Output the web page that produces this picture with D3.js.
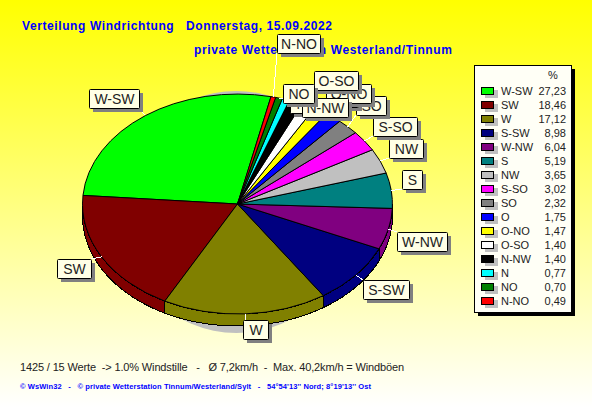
<!DOCTYPE html>
<html><head><meta charset="utf-8">
<script src="https://cdn.jsdelivr.net/npm/d3@7/dist/d3.min.js"></script>
<style>html,body{margin:0;padding:0;background:#fff}svg{display:block}text{font-family:"Liberation Sans",Arial,sans-serif;white-space:pre}</style>
</head><body><svg id="c" width="592" height="407"></svg>
<script>
const categories=["W-SW","SW","W","S-SW","W-NW","S","NW","S-SO","SO","O","O-NO","O-SO","N-NW","N","NO","N-NO"];
const values=[27.23,18.46,17.12,8.98,6.04,5.19,3.65,3.02,2.32,1.75,1.47,1.40,1.40,0.77,0.70,0.49];
const colors=["#00ff00","#800000","#808000","#000080","#800080","#008080","#c0c0c0","#ff00ff","#808080","#0000ff","#ffff00","#ffffff","#000000","#00ffff","#008000","#ff0000"];
const title1="Verteilung Windrichtung   Donnerstag, 15.09.2022";
const title2="private Wetterstation Westerland/Tinnum";
const foot1="1425 / 15 Werte  -> 1.0% Windstille   -   Ø 7,2km/h  -  Max. 40,2km/h = Windböen";
const foot2="© WsWin32   -   © private Wetterstation Tinnum/Westerland/Sylt   -   54°54'13'' Nord; 8°19'13'' Ost";

// layout
const cx=237.5,cy=204,rx=155,ry=110,depth=12;
const labelBoxes={ "W-SW":[89,89,50],"SW":[57,259,34],"W":[243,320,25],"S-SW":[363,280,46],"W-NW":[397,232,50],
 "S":[402,170,20],"NW":[389,139,34],"S-SO":[373,117,44],"SO":[356,96,30],"O":[338,88,20],"O-NO":[326,84,45],
 "O-SO":[314,71,44],"N":[290,94,22],"N-NW":[302,98,46],"NO":[283,84,31],"N-NO":[277,34,43]};
const labelOrder=["W-SW","SW","W","S-SW","W-NW","S","NW","S-SO","SO","O","O-NO","O-SO","N","N-NW","NO","N-NO"];

const svg=d3.select("#c");
const defs=svg.append("defs");
const g=defs.append("linearGradient").attr("id","bg").attr("x1",0).attr("y1",0).attr("x2",0).attr("y2",1);
g.append("stop").attr("offset",0).attr("stop-color","#ffff00");
g.append("stop").attr("offset",1).attr("stop-color","#ffffff");
svg.append("rect").attr("width",592).attr("height",407).attr("fill","url(#bg)");

// titles
svg.append("text").attr("x",22).attr("y",30).attr("fill","#0000ff").attr("font-weight","bold").attr("font-size",12).attr("textLength",310).attr("lengthAdjust","spacing").text(title1);
svg.append("text").attr("x",194).attr("y",54).attr("fill","#0000ff").attr("font-weight","bold").attr("font-size",12).attr("textLength",258).attr("lengthAdjust","spacing").text(title2);

const sx=d3.scaleLinear().domain([-1,1]).range([cx-rx,cx+rx]);
const sy=d3.scaleLinear().domain([-1,1]).range([cy-ry,cy+ry]);
const start=12.5*Math.PI/180;
const pie=d3.pie().value(d=>d).sort(null).startAngle(start).endAngle(start-2*Math.PI);
const arcs=pie(values);
const arcUnit=d3.arc().innerRadius(0).outerRadius(1);
const px=a=>sx(Math.sin(a)), py=a=>sy(-Math.cos(a));

// back shadow
svg.append("ellipse").attr("cx",cx-1).attr("cy",212).attr("rx",118).attr("ry",121).attr("fill","#c0c0c0");

// side walls (lower half of the ellipse only)
const wall=svg.append("g").attr("shape-rendering","crispEdges");
const norm=a=>{while(a<0)a+=2*Math.PI;while(a>=2*Math.PI)a-=2*Math.PI;return a;};
arcs.forEach((d,i)=>{
  const a1=d.endAngle,a0=d.startAngle;
  const pts=[];
  for(let k=0;k<=60;k++){const a=a1+(a0-a1)*k/60;const n=norm(a);if(n>=Math.PI/2&&n<=3*Math.PI/2)pts.push(a);}
  if(pts.length<2)return;
  const top=pts.map(a=>[px(a),py(a)]);
  const bot=pts.map(a=>[px(a),py(a)+depth]).reverse();
  wall.append("path").attr("d",d3.line()(top.concat(bot))+"Z").attr("fill",colors[i]).attr("stroke","#000").attr("stroke-width",1);
});
// top face
svg.append("g").attr("transform",`translate(${cx},${cy}) scale(${rx},${ry})`).attr("shape-rendering","crispEdges")
 .selectAll("path").data(arcs).join("path")
 .attr("d",arcUnit).attr("fill",(d,i)=>colors[i]).attr("stroke","#000").attr("stroke-width",1).attr("vector-effect","non-scaling-stroke");

// leaders + labels
const clamp=(v,a,b)=>Math.max(a,Math.min(b,v));
const lh=19;
const leaders=svg.append("g").attr("stroke","#fff").attr("stroke-width",1).attr("shape-rendering","crispEdges");
categories.forEach((c,i)=>{
  const d=arcs[i],m=(d.startAngle+d.endAngle)/2,b=labelBoxes[c];
  const x0=px(m),y0=py(m);
  leaders.append("line").attr("x1",x0).attr("y1",y0).attr("x2",clamp(x0,b[0],b[0]+b[2])).attr("y2",clamp(y0,b[1],b[1]+lh));
});
const lab=svg.append("g");
labelOrder.forEach(c=>{
  const b=labelBoxes[c];
  lab.append("rect").attr("x",b[0]+4).attr("y",b[1]+4).attr("width",b[2]).attr("height",lh).attr("fill","#808080").attr("shape-rendering","crispEdges");
  lab.append("rect").attr("x",b[0]+.5).attr("y",b[1]+.5).attr("width",b[2]).attr("height",lh).attr("rx",1).attr("fill","#ffffe6").attr("stroke","#000");
  lab.append("text").attr("x",b[0]+b[2]/2+.5).attr("y",b[1]+15).attr("text-anchor","middle").attr("font-size",14).attr("fill","#222").text(c);
});

// legend
const fmt=d3.formatLocale({decimal:",",thousands:".",grouping:[3],currency:["","€"]}).format(".2f");
const rowY=d3.scaleLinear().domain([0,1]).range([91,105]);
svg.append("rect").attr("x",478).attr("y",69).attr("width",97).attr("height",247).attr("fill","#000").attr("shape-rendering","crispEdges");
svg.append("rect").attr("x",474.5).attr("y",65.5).attr("width",97).attr("height",247).attr("fill","#fffff6").attr("stroke","#000").attr("shape-rendering","crispEdges");
svg.append("text").attr("x",553).attr("y",79).attr("text-anchor","middle").attr("font-size",11).attr("fill","#222").text("%");
categories.forEach((c,i)=>{
  const y=rowY(i);
  svg.append("rect").attr("x",485).attr("y",y-1).attr("width",13).attr("height",8).attr("fill","#c0c0c0").attr("shape-rendering","crispEdges");
  svg.append("rect").attr("x",481.5).attr("y",y-3.5).attr("width",12).attr("height",7).attr("fill",colors[i]).attr("stroke","#000").attr("shape-rendering","crispEdges");
  svg.append("text").attr("x",501).attr("y",y+4).attr("font-size",11).attr("fill","#222").text(c);
  svg.append("text").attr("x",566).attr("y",y+4).attr("text-anchor","end").attr("font-size",11).attr("fill","#222").text(fmt(values[i]));
});

// footer
svg.append("text").attr("x",20).attr("y",371).attr("font-size",11).attr("fill","#222").attr("textLength",384).attr("lengthAdjust","spacing").text(foot1);
svg.append("text").attr("x",20).attr("y",389).attr("font-size",7.5).attr("font-weight","bold").attr("fill","#0000ff").attr("textLength",351).attr("lengthAdjust","spacing").text(foot2);
</script></body></html>
